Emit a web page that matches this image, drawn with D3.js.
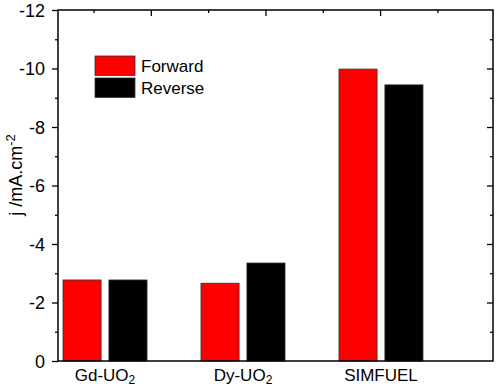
<!DOCTYPE html>
<html>
<head>
<meta charset="utf-8">
<script src="https://cdn.jsdelivr.net/npm/d3@7"></script>
<style>
  body { margin: 0; background: #fff; }
  text { font-family: Arial, "Liberation Sans", sans-serif; fill: #000; }
</style>
</head>
<body>
<script>
const categories = ['Gd-UO2', 'Dy-UO2', 'SIMFUEL']
const series = ['Forward', 'Reverse']
const forward = [-2.77, -2.66, -9.98]
const reverse = [-2.77, -3.35, -9.44]
const yTicks = [0, -2, -4, -6, -8, -10, -12]
const colors = { Forward: '#ff0000', Reverse: '#000000' }

function main(){
    var width = 498;
    var height = 388;

    let svg = d3.select('body')
        .append('svg')
        .attr('width', width)
        .attr('height', height)

    const left = 58, right = 493, top = 10, bottom = 361

    let yScale = d3.scaleLinear()
        .domain([0, -12])
        .range([bottom, top])

    let xScale = d3.scaleBand()
        .domain(categories)
        .range([63, 423])
        .paddingInner(0.391)
        .paddingOuter(0)

    let xInner = d3.scaleBand()
        .domain(series)
        .range([0, xScale.bandwidth()])
        .paddingInner(0.17)

    // top axis has its own ticks (independent of categories)
    let topScale = d3.scaleLinear()
        .domain([0.19, 3.985])
        .range([left, right])

    // bars
    let rows = []
    categories.forEach((c, i) => {
        rows.push({ cat: c, s: 'Forward', v: forward[i] })
        rows.push({ cat: c, s: 'Reverse', v: reverse[i] })
    })

    svg.append('g').selectAll('rect')
        .data(rows)
        .enter()
        .append('rect')
        .attr('x', d => xScale(d.cat) + xInner(d.s))
        .attr('width', xInner.bandwidth())
        .attr('y', d => yScale(d.v))
        .attr('height', d => yScale(0) - yScale(d.v))
        .attr('fill', d => colors[d.s])
        .attr('stroke', '#333')
        .attr('stroke-width', 0.8)

    // left axis
    let yAxis = svg.append('g')
        .attr('transform', `translate(${left},0)`)
        .call(d3.axisLeft(yScale).tickValues(yTicks).tickSize(6).tickSizeOuter(0).tickPadding(7)
            .tickFormat(d => String(d)))
    yAxis.selectAll('text').style('font-size', '18px').attr('dy', '0.36em')
    yAxis.select('.domain').remove()
    svg.append('g')
        .attr('transform', `translate(${left},0)`)
        .call(d3.axisLeft(yScale).tickValues(d3.range(-1, -12, -2)).tickSize(3).tickFormat(''))
        .select('.domain').remove()

    // right axis, inward ticks
    svg.append('g')
        .attr('transform', `translate(${right},0)`)
        .call(d3.axisLeft(yScale).tickValues(yTicks.slice(1, -1)).tickSize(6).tickFormat(''))
        .select('.domain').remove()
    svg.append('g')
        .attr('transform', `translate(${right},0)`)
        .call(d3.axisLeft(yScale).tickValues(d3.range(-1, -12, -2)).tickSize(3).tickFormat(''))
        .select('.domain').remove()

    // top axis, inward ticks
    svg.append('g')
        .attr('transform', `translate(0,${top})`)
        .call(d3.axisBottom(topScale).tickValues([1, 2, 3]).tickSize(6).tickFormat(''))
        .select('.domain').remove()
    svg.append('g')
        .attr('transform', `translate(0,${top})`)
        .call(d3.axisBottom(topScale).tickValues([0.5, 1.5, 2.5, 3.5]).tickSize(3).tickFormat(''))
        .select('.domain').remove()

    svg.selectAll('.tick line').attr('stroke', '#000').attr('stroke-width', 1.3)

    // frame
    svg.append('rect')
        .attr('x', left).attr('y', top)
        .attr('width', right - left).attr('height', bottom - top)
        .attr('fill', 'none')
        .attr('stroke', '#000')
        .attr('stroke-width', 1.5)

    // category labels with subscript 2
    let xl = svg.append('g').selectAll('text')
        .data(categories)
        .enter()
        .append('text')
        .attr('x', d => xScale(d) + xScale.bandwidth() / 2)
        .attr('y', 381)
        .attr('text-anchor', 'middle')
        .style('font-size', '17px')
    xl.each(function(d){
        let t = d3.select(this)
        let m = d.match(/^(.*UO)(2)$/)
        if (m) {
            t.append('tspan').text(m[1])
            t.append('tspan').attr('dy', 3).style('font-size', '12px').text(m[2])
        } else {
            t.text(d)
        }
    })

    // y label
    let yl = svg.append('text')
        .attr('transform', 'translate(22,175) rotate(-90)')
        .attr('text-anchor', 'middle')
        .style('font-size', '18px')
    yl.append('tspan').text('j /mA.cm')
    yl.append('tspan').attr('dy', -7).style('font-size', '13px').text('-2')

    // legend
    let lg = svg.append('g').attr('transform', 'translate(95,56)')
    series.forEach((s, i) => {
        lg.append('rect')
            .attr('x', 0).attr('y', i * 22)
            .attr('width', 40).attr('height', 19.5)
            .attr('fill', colors[s])
            .attr('stroke', '#333')
            .attr('stroke-width', 0.8)
        lg.append('text')
            .attr('x', 46).attr('y', i * 22 + 15.5)
            .style('font-size', '17px')
            .text(s)
    })
}

main()
</script>
</body>
</html>
